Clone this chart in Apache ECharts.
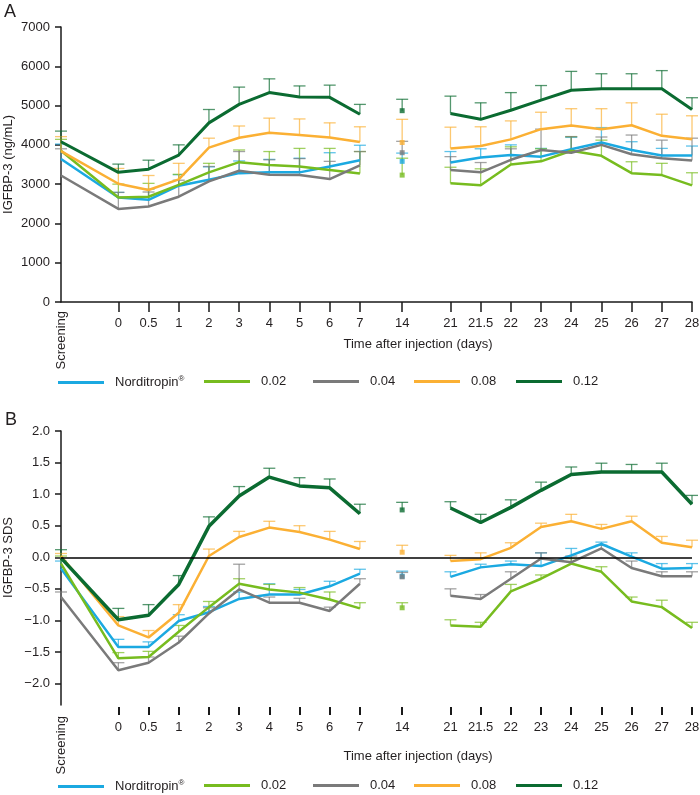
<!DOCTYPE html>
<html>
<head>
<meta charset="utf-8">
<script src="https://cdn.jsdelivr.net/npm/echarts@6/dist/echarts.min.js"></script>
<style>
html,body{margin:0;padding:0;background:#fff;}
#chart{width:700px;height:795px;}
</style>
</head>
<body>
<div id="chart"></div>
<script>
// ---- categories / axis layout ----
const xLabels = ['Screening','0','0.5','1','2','3','4','5','6','7','14','21','21.5','22','23','24','25','26','27','28'];
// broken-axis slot for each timepoint (axis layout, not data)
const xSlots = [0, 1.9, 2.9, 3.9, 4.9, 5.9, 6.9, 7.9, 8.9, 9.9, 11.3, 12.9, 13.9, 14.9, 15.9, 16.9, 17.9, 18.9, 19.9, 20.9];
const day14Index = 10;

const seriesNames = ['Norditropin®', '0.02', '0.04', '0.08', '0.12'];
const seriesColors = ['#1ba9e1', '#77bc1f', '#7a7a7a', '#fbb034', '#0b6b31'];

// ---- Panel A: IGFBP-3 (ng/mL), mean and upper SE ----
const igfNordi  = [3640, 2660, 2600, 2960, 3110, 3280, 3300, 3300, 3450, 3610, 3580, 3550, 3680, 3740, 3700, 3890, 4060, 3870, 3730, 3730];
const igfNordiE = [380, 130, 270, 280, 330, 310, 330, 360, 350, 380, 210, 280, 220, 260, 210, 300, 380, 210, 180, 240];
const igf002  = [3850, 2660, 2680, 2980, 3300, 3560, 3490, 3450, 3360, 3270, 3230, 3020, 2970, 3500, 3580, 3850, 3720, 3280, 3230, 2970];
const igf002E = [290, 340, 340, 270, 230, 310, 340, 460, 550, 560, 430, 410, 420, 450, 320, 360, 400, 290, 300, 320];
const igf004  = [3220, 2370, 2430, 2680, 3070, 3340, 3240, 3230, 3130, 3480, 3800, 3360, 3300, 3620, 3870, 3800, 4000, 3760, 3660, 3600];
const igf004E = [680, 420, 370, 420, 380, 490, 380, 420, 450, 350, 290, 340, 250, 280, 530, 410, 200, 490, 460, 570];
const igf008  = [3840, 3010, 2850, 3120, 3930, 4180, 4310, 4250, 4190, 4070, 4060, 3910, 3970, 4140, 4400, 4490, 4400, 4500, 4230, 4140];
const igf008E = [370, 390, 370, 410, 240, 300, 370, 410, 370, 390, 590, 540, 490, 470, 430, 430, 520, 570, 550, 600];
const igf012  = [4080, 3300, 3380, 3740, 4560, 5030, 5330, 5220, 5210, 4780, 4870, 4800, 4650, 4880, 5140, 5390, 5430, 5430, 5430, 4900];
const igf012E = [270, 210, 230, 260, 340, 440, 350, 280, 310, 250, 290, 440, 420, 450, 370, 480, 380, 380, 460, 300];
const igfTicks = [0, 1000, 2000, 3000, 4000, 5000, 6000, 7000];

// ---- Panel B: IGFBP-3 SDS, mean and upper SE ----
const sdsNordi  = [-0.18, -1.42, -1.42, -1.01, -0.87, -0.66, -0.59, -0.59, -0.46, -0.26, -0.30, -0.31, -0.16, -0.11, -0.14, 0.03, 0.21, 0.01, -0.18, -0.17];
const sdsNordiE = [0.12, 0.12, 0.08, 0.10, 0.09, 0.11, 0.17, 0.08, 0.08, 0.07, 0.08, 0.08, 0.05, 0.05, 0.21, 0.11, 0.03, 0.06, 0.08, 0.07];
const sds002  = [-0.10, -1.60, -1.58, -1.18, -0.79, -0.42, -0.51, -0.56, -0.67, -0.81, -0.80, -1.08, -1.10, -0.54, -0.34, -0.10, -0.23, -0.70, -0.79, -1.12];
const sds002E = [0.12, 0.09, 0.09, 0.10, 0.09, 0.08, 0.08, 0.08, 0.12, 0.09, 0.08, 0.09, 0.07, 0.11, 0.06, 0.08, 0.08, 0.07, 0.11, 0.09];
const sds004  = [-0.63, -1.79, -1.67, -1.35, -0.89, -0.51, -0.72, -0.72, -0.85, -0.42, -0.31, -0.61, -0.66, -0.34, -0.02, -0.08, 0.14, -0.17, -0.30, -0.30];
const sds004E = [0.08, 0.12, 0.09, 0.10, 0.09, 0.40, 0.09, 0.07, 0.06, 0.08, 0.07, 0.11, 0.07, 0.11, 0.09, 0.10, 0.05, 0.11, 0.07, 0.07];
const sds008  = [0.02, -1.08, -1.27, -0.88, 0.02, 0.32, 0.47, 0.40, 0.28, 0.13, 0.08, -0.06, -0.03, 0.15, 0.48, 0.57, 0.45, 0.57, 0.23, 0.16];
const sds008E = [0.04, 0.14, 0.11, 0.13, 0.11, 0.09, 0.10, 0.10, 0.13, 0.12, 0.11, 0.09, 0.10, 0.08, 0.06, 0.11, 0.07, 0.08, 0.10, 0.11];
const sds012  = [-0.01, -0.99, -0.92, -0.43, 0.49, 0.97, 1.27, 1.13, 1.10, 0.69, 0.75, 0.78, 0.55, 0.79, 1.06, 1.31, 1.35, 1.35, 1.35, 0.84];
const sds012E = [0.13, 0.18, 0.17, 0.14, 0.15, 0.15, 0.14, 0.13, 0.14, 0.15, 0.12, 0.10, 0.13, 0.12, 0.13, 0.12, 0.14, 0.12, 0.14, 0.14];
const sdsTicks = [-2.0, -1.5, -1.0, -0.5, 0.0, 0.5, 1.0, 1.5, 2.0];

const panelA = [igfNordi, igf002, igf004, igf008, igf012];
const panelAE = [igfNordiE, igf002E, igf004E, igf008E, igf012E];
const panelB = [sdsNordi, sds002, sds004, sds008, sds012];
const panelBE = [sdsNordiE, sds002E, sds004E, sds008E, sds012E];

const FONT = '"Liberation Sans", Arial, Helvetica, sans-serif';
const TXT = '#231f20';
const AX = '#1a1a1a';

function labelFor(v) {
  for (let i = 0; i < xSlots.length; i++) if (Math.abs(xSlots[i] - v) < 1e-6) return xLabels[i];
  return '';
}

function buildSeries(panel, errs, gi, wide) {
  const out = [];
  panel.forEach((vals, k) => {
    const name = seriesNames[k], color = seriesColors[k];
    const lineData = vals.map((v, i) => i === day14Index ? [xSlots[i], '-'] : [xSlots[i], v]);
    const errData = vals.map((v, i) => [xSlots[i], v, errs[k][i]]);
    out.push({
      type: 'line', name: name, xAxisIndex: gi * 2, yAxisIndex: gi,
      z: 3, data: lineData, showSymbol: false, symbol: 'none', connectNulls: false,
      lineStyle: { color: color, width: (k === 4) ? wide : 2.5 },
      itemStyle: { color: color }, color: color
    });
    out.push({
      type: 'custom', name: name, xAxisIndex: gi * 2, yAxisIndex: gi,
      z: 1, silent: true, itemStyle: { color: color }, color: color,
      data: errData,
      encode: { x: 0, y: 1 },
      renderItem: function (params, api) {
        const x = api.value(0), m = api.value(1), e = api.value(2);
        const p0 = api.coord([x, m]), p1 = api.coord([x, m + e]);
        const st = { stroke: color, lineWidth: 1.3, opacity: 0.7 };
        return { type: 'group', children: [
          { type: 'line', shape: { x1: p0[0], y1: p0[1], x2: p1[0], y2: p1[1] }, style: st },
          { type: 'line', shape: { x1: p1[0] - 6, y1: p1[1], x2: p1[0] + 6, y2: p1[1] }, style: st }
        ]};
      }
    });
    out.push({
      type: 'scatter', name: name, xAxisIndex: gi * 2, yAxisIndex: gi,
      z: 4, symbol: 'rect', symbolSize: 5, color: color,
      data: [[xSlots[day14Index], vals[day14Index]]],
      itemStyle: { color: color }
    });
  });
  return out;
}

const series = buildSeries(panelA, panelAE, 0, 3).concat(buildSeries(panelB, panelBE, 1, 3.5));
// zero reference line on panel B
series.push({
  type: 'line', xAxisIndex: 2, yAxisIndex: 1, data: [], z: 5, silent: true,
  markLine: { silent: true, symbol: 'none', label: { show: false },
    lineStyle: { color: '#000', width: 1.5, type: 'solid' },
    data: [{ yAxis: 0 }] }
});

const tickVals = xSlots.slice(1);
function xAxisMain(gi, opts) {
  return Object.assign({
    type: 'value', gridIndex: gi, position: 'bottom', min: 0, max: xSlots[xSlots.length - 1],
    splitLine: { show: false }, nameMoveOverlap: false,
    axisLine: { show: true, onZero: false, lineStyle: { color: AX, width: 1.5 } },
    axisTick: { show: true, length: 10, customValues: tickVals, lineStyle: { color: AX, width: 1.5 } },
    axisLabel: { customValues: tickVals, formatter: labelFor, fontSize: 13, color: TXT, margin: 15, fontFamily: FONT },
    name: 'Time after injection (days)', nameLocation: 'middle', nameGap: 36,
    nameTextStyle: { fontSize: 13, color: TXT, fontFamily: FONT, padding: [0, 0, 0, 83] }
  }, opts);
}
function xAxisScreen(gi, margin) {
  return {
    type: 'value', gridIndex: gi, position: 'bottom', min: 0, max: xSlots[xSlots.length - 1],
    splitLine: { show: false }, axisLine: { show: false, onZero: false }, axisTick: { show: false },
    axisLabel: { customValues: [xSlots[0]], formatter: labelFor, rotate: 90, fontSize: 13, color: TXT, margin: margin, fontFamily: FONT }
  };
}

const legends = [];
const legendLeft = [58, 204, 313, 414, 516];
[375, 779].forEach(top => {
  seriesNames.forEach((n, k) => {
    legends.push({
      data: [{ name: n, itemStyle: { color: seriesColors[k] } }], left: legendLeft[k], top: top, padding: 0,
      icon: 'rect', itemWidth: 46, itemHeight: 3,
      selectedMode: false,
      textStyle: { fontSize: 13, color: TXT, fontFamily: FONT, padding: [0, 0, 0, 6],
        rich: { sup: { fontSize: 8, verticalAlign: 'top', padding: [0, 0, 7, 0], color: TXT, fontFamily: FONT } } },
      formatter: name => name.replace('®', '{sup|®}')
    });
  });
});

const option = {
  animation: false,
  textStyle: { fontFamily: FONT },
  title: [
    { text: 'A', left: 4, top: 3, padding: 0, textStyle: { fontSize: 18, fontWeight: 'normal', color: TXT, fontFamily: FONT } },
    { text: 'B', left: 5, top: 411, padding: 0, textStyle: { fontSize: 18, fontWeight: 'normal', color: TXT, fontFamily: FONT } }
  ],
  legend: legends,
  grid: [
    { left: 61, right: 8, top: 27, height: 275, containLabel: false, outerBoundsMode: 'none' },
    { left: 61, right: 8, top: 431, height: 274, containLabel: false, outerBoundsMode: 'none' }
  ],
  xAxis: [
    xAxisMain(0, {}),
    xAxisScreen(0, 9),
    xAxisMain(1, { offset: 2,
      axisLine: { show: true, onZero: false, lineStyle: { color: 'rgba(0,0,0,0)', width: 0 } },
      axisTick: { show: true, length: 8, customValues: tickVals, lineStyle: { color: AX, width: 2 } },
      axisLabel: { customValues: tickVals, formatter: labelFor, fontSize: 13, color: TXT, margin: 14, fontFamily: FONT },
      nameGap: 43 }),
    xAxisScreen(1, 11)
  ],
  yAxis: [
    { type: 'value', gridIndex: 0, min: igfTicks[0], max: igfTicks[igfTicks.length - 1], interval: 1000,
      splitLine: { show: false }, nameMoveOverlap: false,
      axisLine: { show: true, lineStyle: { color: AX, width: 1.5 } },
      axisTick: { show: true, length: 6, lineStyle: { color: AX, width: 1.5 } },
      axisLabel: { fontSize: 13, color: TXT, margin: 11, fontFamily: FONT, formatter: v => String(v) },
      name: 'IGFBP-3 (ng/mL)', nameLocation: 'middle', nameGap: 46,
      nameTextStyle: { fontSize: 13, color: TXT, fontFamily: FONT } },
    { type: 'value', gridIndex: 1, min: -2.34, max: 2.0,
      splitLine: { show: false }, nameMoveOverlap: false,
      axisLine: { show: true, onZero: false, lineStyle: { color: AX, width: 1.5 } },
      axisTick: { show: true, length: 6, customValues: sdsTicks, lineStyle: { color: AX, width: 1.5 } },
      axisLabel: { customValues: sdsTicks, fontSize: 13, color: TXT, margin: 11, fontFamily: FONT,
        formatter: v => (v < -1e-9 ? '\u2212' + Math.abs(v).toFixed(1) : Math.abs(v).toFixed(1)) },
      name: 'IGFBP-3 SDS', nameLocation: 'middle', nameGap: 46,
      nameTextStyle: { fontSize: 13, color: TXT, fontFamily: FONT, padding: [0, 0, 0, 21] } }
  ],
  series: series
};

const chart = echarts.init(document.getElementById('chart'), null, { renderer: 'canvas' });
chart.setOption(option);
</script>
</body>
</html>
